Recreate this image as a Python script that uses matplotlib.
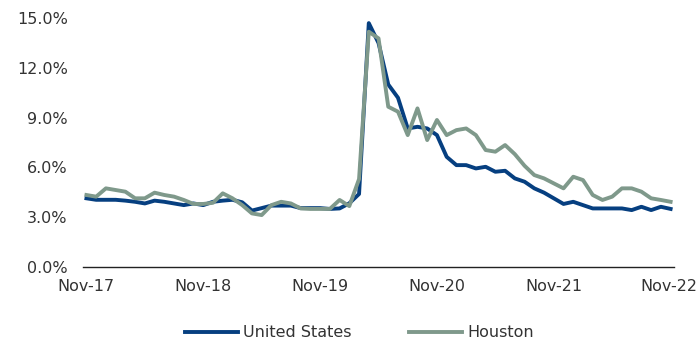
import numpy as np
import matplotlib.pyplot as plt
from matplotlib.ticker import FuncFormatter

plt.rcParams['font.family'] = ['DejaVu Sans']

# tasa de desempleo mensual, nov-17 a nov-22
us = [4.14, 4.05, 4.05, 4.05, 4.0, 3.93, 3.83, 4.0, 3.93, 3.83, 3.73, 3.83,
      3.73, 3.93, 4.0, 4.05, 3.9, 3.4, 3.55, 3.7, 3.7, 3.7, 3.55, 3.55,
      3.55, 3.5, 3.53, 3.84, 4.4, 14.7, 13.5, 11.0, 10.2, 8.35, 8.45, 8.35,
      7.95, 6.64, 6.14, 6.14, 5.94, 6.04, 5.74, 5.8, 5.34, 5.14, 4.74, 4.48,
      4.14, 3.8, 3.93, 3.73, 3.53, 3.53, 3.53, 3.53, 3.43, 3.63, 3.43, 3.63,
      3.5]
houston = [4.34, 4.24, 4.74, 4.64, 4.54, 4.14, 4.14, 4.48, 4.34, 4.24, 4.04, 3.8,
           3.8, 3.87, 4.44, 4.14, 3.73, 3.23, 3.13, 3.73, 3.93, 3.83, 3.53, 3.5,
           3.5, 3.5, 4.04, 3.67, 5.3, 14.18, 13.78, 9.66, 9.36, 7.95, 9.56, 7.65,
           8.86, 7.95, 8.25, 8.35, 7.95, 7.05, 6.95, 7.35, 6.8, 6.1, 5.54, 5.34,
           5.04, 4.74, 5.44, 5.24, 4.34, 4.04, 4.24, 4.74, 4.74, 4.54, 4.14, 4.04,
           3.93]
tick_labels = ["Nov-17", "Nov-18", "Nov-19", "Nov-20", "Nov-21", "Nov-22"]

x = np.arange(len(us))
txt = "#333333"

fig = plt.figure(figsize=(7, 3.42), dpi=100)
ax = fig.add_axes([0.1186, 0.2193, 0.8443, 0.7277])

ax.plot(x, us, color="#063f80", lw=2.8, label="United States", zorder=2)
ax.plot(x, houston, color="#7f998b", lw=2.8, label="Houston", zorder=3)

ax.set_ylim(0, 15)
ax.set_xlim(-0.35, 60.35)
ax.set_yticks([0, 3, 6, 9, 12, 15])
ax.yaxis.set_major_formatter(FuncFormatter(lambda v, p: "%.1f%%" % v))
# la ultima marca un poco a la izquierda para que no se corte la etiqueta
ax.set_xticks([0, 12, 24, 36, 48, 59.8])
ax.set_xticklabels(tick_labels)

for s in ["top", "right", "left"]:
    ax.spines[s].set_visible(False)
ax.spines["bottom"].set_color("#222222")
ax.spines["bottom"].set_linewidth(1.0)

ax.tick_params(axis="both", length=0, labelsize=11.5, labelcolor=txt)
ax.tick_params(axis="y", pad=11)
ax.tick_params(axis="x", pad=9)

fig.legend(loc="center", bbox_to_anchor=(0.514, 0.027), ncol=2, frameon=False,
           fontsize=11.5, handlelength=3.3, columnspacing=3.6, handletextpad=0.35,
           labelcolor=txt)

fig.savefig("out.png", dpi=100)
